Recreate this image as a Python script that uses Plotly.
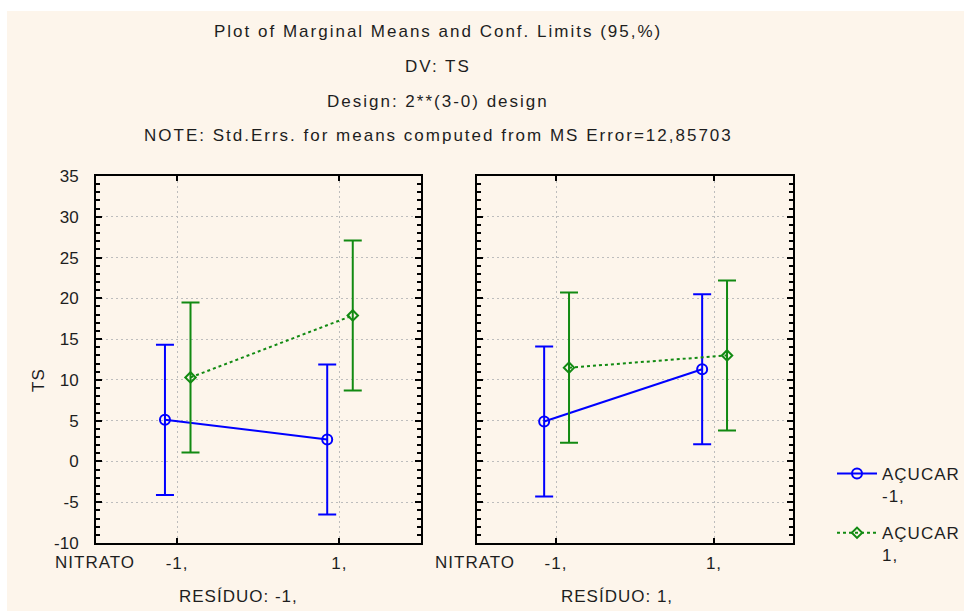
import plotly.graph_objects as go

# Factor levels
nitrato = [-1, 1]
nitrato_labels = ["-1,", "1,"]
residuo_labels = ["RESÍDUO: -1,", "RESÍDUO: 1,"]
acucar_labels = ["AÇUCAR<br>-1,", "AÇUCAR<br>1,"]

# TS axis ticks
ts_ticks = [-10, -5, 0, 5, 10, 15, 20, 25, 30, 35]
ts_tick_labels = ["-10", "-5", "0", "5", "10", "15", "20", "25", "30", "35"]

# Marginal means of TS, per RESÍDUO level (rows) and NITRATO level (columns)
ts_acucar_neg = [[5.1, 2.7], [4.9, 11.3]]
ts_acucar_pos = [[10.3, 17.9], [11.5, 13.0]]
# 95% confidence half-widths
ci_acucar_neg = [[9.2, 9.2], [9.2, 9.2]]
ci_acucar_pos = [[9.2, 9.2], [9.2, 9.2]]

title_lines = [
    "Plot of Marginal Means and Conf. Limits (95,%)",
    "DV: TS",
    "Design: 2**(3-0) design",
    "NOTE: Std.Errs. for means computed from MS Error=12,85703",
]

W, H = 964, 611
FONT = "Liberation Sans, Arial, sans-serif"
TXT = "#1e1e1e"
BLUE = "#0000ff"
GREEN = "#128a12"
CREAM = "#fdf5eb"


def spaced(text, px):
    return f'<span style="letter-spacing:{px}px">{text}</span>'


def px_x(p):
    return p / W


def px_y(p):
    # pixel offset from the top -> paper fraction
    return 1 - p / H


fig = go.Figure()

series = [
    (ts_acucar_neg, ci_acucar_neg, acucar_labels[0], BLUE, "solid", "circle-open", 10, -0.15),
    (ts_acucar_pos, ci_acucar_pos, acucar_labels[1], GREEN, "dot", "diamond-open", 8, 0.165),
]

for panel in range(2):
    xa = "x" if panel == 0 else "x2"
    ya = "y" if panel == 0 else "y2"
    for means, ci, name, color, dash, symbol, msize, shift in series:
        fig.add_trace(go.Scatter(
            x=[v + shift for v in nitrato],
            y=means[panel],
            mode="lines+markers",
            name=spaced(name, 1),
            legendgroup=name,
            showlegend=(panel == 0),
            line=dict(color=color, width=2, dash=dash),
            marker=dict(symbol=symbol, size=msize, color=color,
                        line=dict(color=color, width=2)),
            error_y=dict(type="data", array=ci[panel], visible=True,
                         color=color, thickness=2, width=9),
            xaxis=xa, yaxis=ya,
        ))

y_dom = [px_y(543), px_y(176)]

common_x = dict(
    range=[-2, 2], tickvals=nitrato, ticktext=[spaced(t, 1) for t in nitrato_labels],
    showgrid=True, gridcolor="#bdbdbd", griddash="2px,3px", gridwidth=1,
    showline=True, linecolor="black", linewidth=2, mirror="allticks",
    ticks="inside", ticklen=5, tickwidth=2, tickcolor="black",
    zeroline=False, tickfont=dict(family=FONT, size=17, color=TXT),
    ticklabelstandoff=4, fixedrange=True,
)
common_y = dict(
    range=[-10, 35], tickvals=ts_ticks, ticktext=ts_tick_labels, domain=y_dom,
    showgrid=True, gridcolor="#bdbdbd", griddash="2px,3px", gridwidth=1,
    showline=True, linecolor="black", linewidth=2, mirror="allticks",
    ticks="inside", ticklen=6, tickwidth=2, tickcolor="black",
    minor=dict(dtick=1, tick0=0, ticks="inside", ticklen=4, tickwidth=2,
               tickcolor="black", showgrid=False),
    zeroline=False, tickfont=dict(family=FONT, size=17, color=TXT),
    fixedrange=True,
)

fig.update_layout(
    width=W, height=H,
    margin=dict(l=0, r=0, t=0, b=0, autoexpand=False),
    paper_bgcolor="white", plot_bgcolor="white",
    font=dict(family=FONT, size=17, color=TXT),
    xaxis=dict(common_x, domain=[px_x(96), px_x(420.5)], anchor="y"),
    xaxis2=dict(common_x, domain=[px_x(477), px_x(793)], anchor="y2"),
    yaxis=dict(common_y, anchor="x", ticklabelstandoff=12),
    yaxis2=dict(common_y, anchor="x2", showticklabels=False),
    legend=dict(
        x=px_x(832), y=px_y(456), xanchor="left", yanchor="top",
        bgcolor="rgba(0,0,0,0)", borderwidth=0,
        font=dict(family=FONT, size=17, color=TXT),
        valign="top", tracegroupgap=12, itemwidth=40,
    ),
    showlegend=True,
)

# cream page background
fig.add_shape(type="rect", xref="paper", yref="paper",
              x0=px_x(7), x1=1, y0=0, y1=px_y(11),
              fillcolor=CREAM, line=dict(width=0), layer="below")

annotations = []
for text, yc in zip(title_lines, [31, 67, 101, 135]):
    annotations.append(dict(text=spaced(text, 2), x=px_x(438), y=px_y(yc), xref="paper",
                            yref="paper", showarrow=False, xanchor="center",
                            yanchor="middle", font=dict(size=17)))

# y-axis title
annotations.append(dict(text=spaced("TS", 1), x=px_x(38), y=px_y(380), xref="paper",
                        yref="paper", showarrow=False, textangle=-90,
                        xanchor="center", yanchor="middle", font=dict(size=17)))

# factor captions below each panel
for xc_nit, xc_res, res in [(95, 238, residuo_labels[0]), (475, 617, residuo_labels[1])]:
    annotations.append(dict(text=spaced("NITRATO", 1), x=px_x(xc_nit), y=px_y(562),
                            xref="paper", yref="paper", showarrow=False,
                            xanchor="center", yanchor="middle", font=dict(size=17)))
    annotations.append(dict(text=spaced(res, 1), x=px_x(xc_res), y=px_y(596),
                            xref="paper", yref="paper", showarrow=False,
                            xanchor="center", yanchor="middle", font=dict(size=17)))

fig.update_layout(annotations=annotations)

fig.write_html("out.html")
